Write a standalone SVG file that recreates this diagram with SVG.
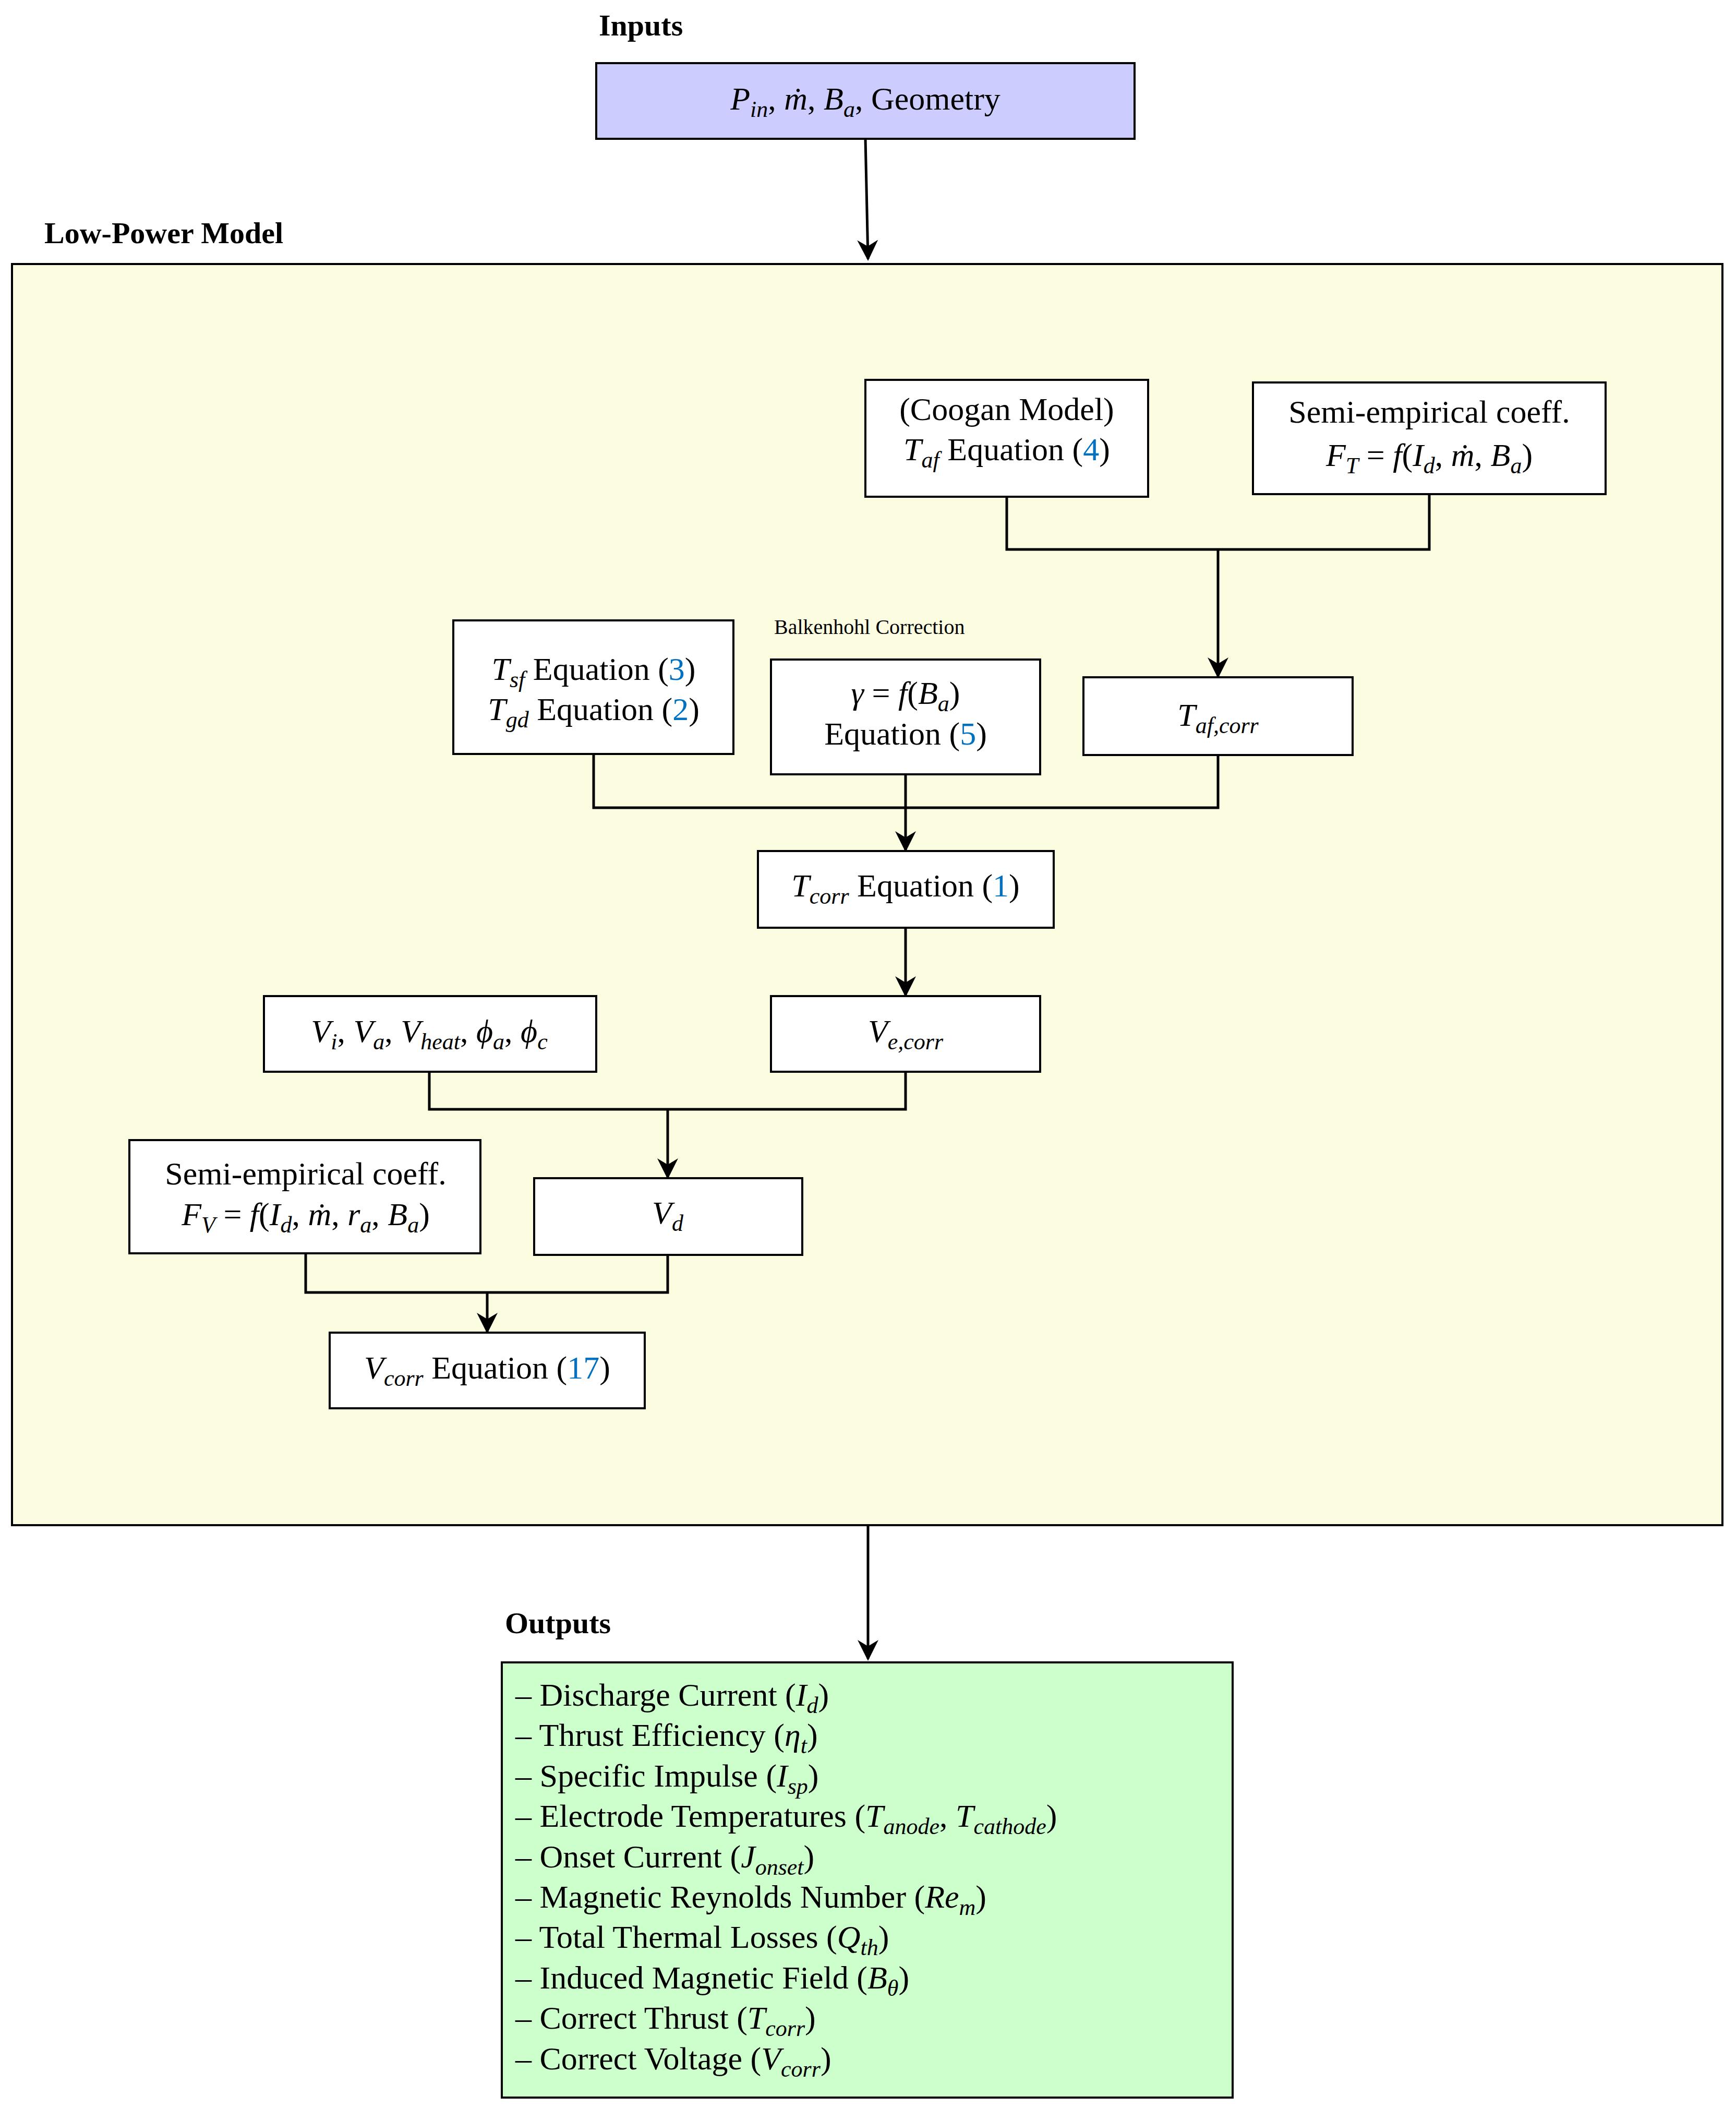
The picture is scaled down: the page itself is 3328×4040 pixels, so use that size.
<svg xmlns="http://www.w3.org/2000/svg" width="3328" height="4040" viewBox="0 0 3328 4040">
<style>
text{font-family:"Liberation Serif","DejaVu Serif",serif;font-size:62px;fill:#000}
.c{text-anchor:middle}
.b{font-weight:bold;font-size:58px}
.i{font-style:italic}
.s{font-size:44px;font-style:italic}
.n{fill:#0070c0}
.box{fill:#fff;stroke:#000;stroke-width:4}
.ln{fill:none;stroke:#000;stroke-width:5}
</style>
<defs><marker id="a" markerWidth="10" markerHeight="10" refX="9" refY="5" orient="auto" markerUnits="userSpaceOnUse" viewBox="0 0 10 10"><path d="M0,0 L10,5 L0,10 L3,5 Z" fill="#000"/></marker>
<marker id="ar" viewBox="0 0 10 10" refX="9" refY="5" markerWidth="8" markerHeight="8" orient="auto"><path d="M0,0 L10,5 L0,10 L3,5 Z" fill="#000"/></marker></defs>
<text x="1148" y="68" class="b">Inputs</text>
<g id="inputs"><rect x="1143" y="121" width="1032" height="145" fill="#ccccff" stroke="#000" stroke-width="4"/>
<text x="1659" y="210" class="c"><tspan class="i">P</tspan><tspan class="s" dy="14">in</tspan><tspan dy="-14">, </tspan><tspan class="i">ṁ</tspan>, <tspan class="i">B</tspan><tspan class="s" dy="14">a</tspan><tspan dy="-14">, Geometry</tspan></text></g>
<text x="85" y="466" class="b">Low-Power Model</text>
<g id="model"><rect x="23" y="506" width="3279" height="2417" fill="#fcfce0" stroke="#000" stroke-width="4"/></g>
<g id="coogan"><rect class="box" x="1659" y="728" width="542" height="224"/>
<text x="1930" y="805" class="c">(Coogan Model)</text>
<text x="1930" y="882" class="c"><tspan class="i">T</tspan><tspan class="s" dy="14">af</tspan><tspan dy="-14"> Equation (</tspan><tspan class="n">4</tspan>)</text></g>
<g id="ft"><rect class="box" x="2402" y="733" width="676" height="214"/>
<text x="2740" y="810" class="c">Semi-empirical coeff.</text>
<text x="2740" y="893" class="c"><tspan class="i">F</tspan><tspan class="s" dy="14">T</tspan><tspan dy="-14"> = </tspan><tspan class="i">f</tspan>(<tspan class="i">I</tspan><tspan class="s" dy="14">d</tspan><tspan dy="-14">, </tspan><tspan class="i">ṁ</tspan>, <tspan class="i">B</tspan><tspan class="s" dy="14">a</tspan><tspan dy="-14">)</tspan></text></g>
<g id="tafcorr"><rect class="box" x="2077" y="1298" width="516" height="149"/>
<text x="2335" y="1391" class="c"><tspan class="i">T</tspan><tspan class="s" dy="14">af,corr</tspan></text></g>
<text x="1484" y="1215" style="font-size:40px">Balkenhohl Correction</text>
<g id="gamma"><rect class="box" x="1478" y="1264" width="516" height="220"/>
<text x="1736" y="1349" class="c"><tspan class="i">γ</tspan> = <tspan class="i">f</tspan>(<tspan class="i">B</tspan><tspan class="s" dy="14">a</tspan><tspan dy="-14">)</tspan></text>
<text x="1736" y="1427" class="c">Equation (<tspan class="n">5</tspan>)</text></g>
<g id="tsf"><rect class="box" x="869" y="1189" width="537" height="256"/>
<text x="1138" y="1303" class="c"><tspan class="i">T</tspan><tspan class="s" dy="14">sf</tspan><tspan dy="-14"> Equation (</tspan><tspan class="n">3</tspan>)</text>
<text x="1138" y="1380" class="c"><tspan class="i">T</tspan><tspan class="s" dy="14">gd</tspan><tspan dy="-14"> Equation (</tspan><tspan class="n">2</tspan>)</text></g>
<g id="tcorr"><rect class="box" x="1453" y="1631" width="567" height="147"/>
<text x="1736" y="1718" class="c"><tspan class="i">T</tspan><tspan class="s" dy="14">corr</tspan><tspan dy="-14"> Equation (</tspan><tspan class="n">1</tspan>)</text></g>
<g id="ve"><rect class="box" x="1478" y="1909" width="516" height="145"/>
<text x="1736" y="1997" class="c"><tspan class="i">V</tspan><tspan class="s" dy="14">e,corr</tspan></text></g>
<g id="vi"><rect class="box" x="506" y="1909" width="637" height="145"/>
<text x="823" y="1997" class="c"><tspan class="i">V</tspan><tspan class="s" dy="14">i</tspan><tspan dy="-14">,  </tspan><tspan class="i">V</tspan><tspan class="s" dy="14">a</tspan><tspan dy="-14">,  </tspan><tspan class="i">V</tspan><tspan class="s" dy="14">heat</tspan><tspan dy="-14">,  </tspan><tspan class="i">ϕ</tspan><tspan class="s" dy="14">a</tspan><tspan dy="-14">,  </tspan><tspan class="i">ϕ</tspan><tspan class="s" dy="14">c</tspan></text></g>
<g id="vd"><rect class="box" x="1024" y="2258" width="514" height="147"/>
<text x="1280" y="2345" class="c"><tspan class="i">V</tspan><tspan class="s" dy="14">d</tspan></text></g>
<g id="fv"><rect class="box" x="248" y="2185" width="673" height="217"/>
<text x="586" y="2270" class="c">Semi-empirical coeff.</text>
<text x="586" y="2348" class="c"><tspan class="i">F</tspan><tspan class="s" dy="14">V</tspan><tspan dy="-14"> = </tspan><tspan class="i">f</tspan>(<tspan class="i">I</tspan><tspan class="s" dy="14">d</tspan><tspan dy="-14">, </tspan><tspan class="i">ṁ</tspan>, <tspan class="i">r</tspan><tspan class="s" dy="14">a</tspan><tspan dy="-14">, </tspan><tspan class="i">B</tspan><tspan class="s" dy="14">a</tspan><tspan dy="-14">)</tspan></text></g>
<g id="vcorr"><rect class="box" x="632" y="2554" width="604" height="145"/>
<text x="934" y="2642" class="c"><tspan class="i">V</tspan><tspan class="s" dy="14">corr</tspan><tspan dy="-14"> Equation (</tspan><tspan class="n">17</tspan>)</text></g>
<text x="968" y="3130" class="b">Outputs</text>
<g id="outputs"><rect x="962" y="3186" width="1401" height="834" fill="#ccffcc" stroke="#000" stroke-width="4"/>
<text x="988" y="3269">– Discharge Current (<tspan class="i">I</tspan><tspan class="s" dy="14">d</tspan><tspan dy="-14">)</tspan></text>
<text x="988" y="3346">– Thrust Efficiency (<tspan class="i">η</tspan><tspan class="s" dy="14">t</tspan><tspan dy="-14">)</tspan></text>
<text x="988" y="3424">– Specific Impulse (<tspan class="i">I</tspan><tspan class="s" dy="14">sp</tspan><tspan dy="-14">)</tspan></text>
<text x="988" y="3501">– Electrode Temperatures (<tspan class="i">T</tspan><tspan class="s" dy="14">anode</tspan><tspan dy="-14">, </tspan><tspan class="i">T</tspan><tspan class="s" dy="14">cathode</tspan><tspan dy="-14">)</tspan></text>
<text x="988" y="3579">– Onset Current (<tspan class="i">J</tspan><tspan class="s" dy="14">onset</tspan><tspan dy="-14">)</tspan></text>
<text x="988" y="3656">– Magnetic Reynolds Number (<tspan class="i">Re</tspan><tspan class="s" dy="14">m</tspan><tspan dy="-14">)</tspan></text>
<text x="988" y="3733">– Total Thermal Losses (<tspan class="i">Q</tspan><tspan class="s" dy="14">th</tspan><tspan dy="-14">)</tspan></text>
<text x="988" y="3811">– Induced Magnetic Field (<tspan class="i">B</tspan><tspan class="s" dy="14">θ</tspan><tspan dy="-14">)</tspan></text>
<text x="988" y="3888">– Correct Thrust (<tspan class="i">T</tspan><tspan class="s" dy="14">corr</tspan><tspan dy="-14">)</tspan></text>
<text x="988" y="3966">– Correct Voltage (<tspan class="i">V</tspan><tspan class="s" dy="14">corr</tspan><tspan dy="-14">)</tspan></text></g>
<g id="connectors">
<path class="ln" d="M1659,266 L1664,496" marker-end="url(#ar)"/>
<path class="ln" d="M1930,952 V1053 H2740 V947"/>
<path class="ln" d="M2335,1053 V1296" marker-end="url(#ar)"/>
<path class="ln" d="M1138,1445 V1548 H2335 V1447"/>
<path class="ln" d="M1736,1484 V1629" marker-end="url(#ar)"/>
<path class="ln" d="M1736,1778 V1907" marker-end="url(#ar)"/>
<path class="ln" d="M823,2054 V2126 H1736 V2054"/>
<path class="ln" d="M1280,2126 V2256" marker-end="url(#ar)"/>
<path class="ln" d="M586,2402 V2477 H1280 V2405"/>
<path class="ln" d="M934,2477 V2552" marker-end="url(#ar)"/>
<path class="ln" d="M1664,2923 V3179" marker-end="url(#ar)"/>
</g>
</svg>
